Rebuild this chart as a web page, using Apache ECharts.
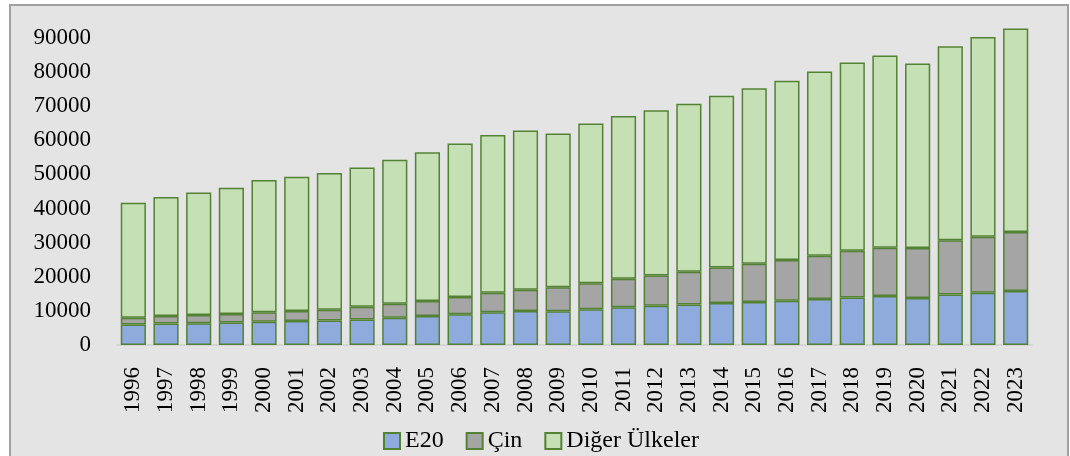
<!DOCTYPE html>
<html lang="tr">
<head>
    <meta charset="UTF-8">
    <title>E20 - Çin - Diğer Ülkeler</title>
    <script src="https://cdn.jsdelivr.net/npm/echarts@6/dist/echarts.min.js"></script>
    <style>
        body { margin: 0; background: #fff; }
        #frame {
            position: absolute; left: 9px; top: 4px;
            width: 1056px; height: 470px;
            border: 2px solid #a0a0a0; background: #e4e4e4;
        }
        #main { position: absolute; left: 0; top: 0; width: 1070px; height: 456px; }
    </style>
</head>
<body>
    <div id="frame"></div>
    <div id="main"></div>
<script type="text/javascript">
    // yıllar ve seriler
    var years = ['1996','1997','1998','1999','2000','2001','2002','2003','2004','2005',
                 '2006','2007','2008','2009','2010','2011','2012','2013','2014','2015',
                 '2016','2017','2018','2019','2020','2021','2022','2023'];
    var e20 = [6000, 6300, 6400, 6600, 6800, 7000, 7200, 7500, 8000, 8500,
               9000, 9600, 10000, 9900, 10500, 11100, 11500, 11900, 12300, 12600,
               13000, 13500, 13900, 14400, 13800, 14800, 15300, 15800];
    var cin = [2000, 2200, 2400, 2500, 2800, 3000, 3100, 3700, 4100, 4400,
               5100, 5700, 6200, 7000, 7600, 8300, 8900, 9600, 10400, 11200,
               11900, 12700, 13700, 14100, 14600, 15900, 16400, 17300];
    var diger = [33700, 34900, 35900, 37000, 38800, 39300, 40100, 40800, 42200, 43600,
                 45000, 46300, 46700, 45100, 46800, 47700, 48400, 49200, 50400, 51500,
                 52600, 54000, 55200, 56400, 54100, 56900, 58600, 59700];

    var font = 'Liberation Serif';
    var myChart = echarts.init(document.getElementById('main'));

    function barSeries(name, data, color) {
        return {
            name: name,
            type: 'bar',
            stack: 'toplam',
            barCategoryGap: '23%',
            clip: false,
            itemStyle: { color: color, borderColor: '#548235', borderWidth: 1.5 },
            data: data
        };
    }

    var option = {
        animation: false,
        textStyle: { fontFamily: font },
        grid: { left: 117, right: 38, top: 38, bottom: 111 },
        legend: {
            left: 378,
            top: 424,
            itemWidth: 16,
            itemHeight: 16,
            itemGap: 22,
            icon: 'rect',
            textStyle: { fontFamily: font, fontSize: 24, color: '#000' },
            data: ['E20', 'Çin', 'Diğer Ülkeler']
        },
        xAxis: {
            type: 'category',
            data: years,
            axisTick: { show: false },
            axisLine: { lineStyle: { color: '#d0d0d0', width: 1.5 } },
            axisLabel: { rotate: 90, margin: 22, fontFamily: font, fontSize: 23, color: '#000' }
        },
        yAxis: {
            type: 'value',
            min: 0,
            max: 90000,
            interval: 10000,
            splitLine: { show: false },
            axisLine: { show: false },
            axisTick: { show: false },
            axisLabel: {
                margin: 26, fontFamily: font, fontSize: 23, color: '#000',
                formatter: function (v) { return String(v); }
            }
        },
        series: [
            barSeries('E20', e20, '#8faadc'),
            barSeries('Çin', cin, '#a5a5a5'),
            barSeries('Diğer Ülkeler', diger, '#c5e0b4')
        ]
    };

    myChart.setOption(option);
</script>
</body>
</html>
